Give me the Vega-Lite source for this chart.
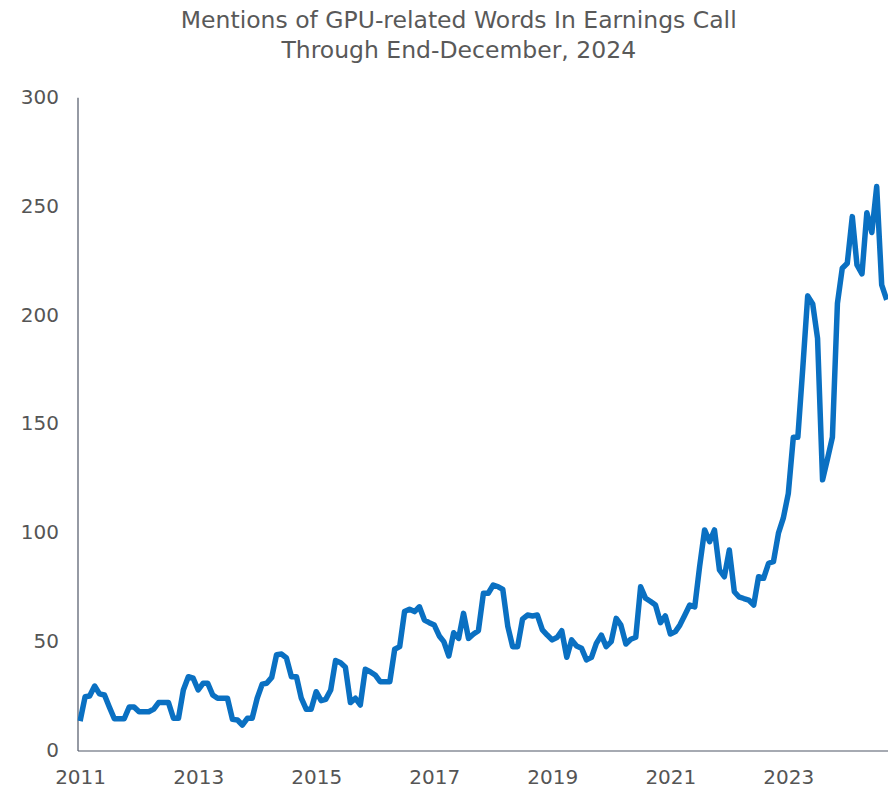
{
  "$schema": "https://vega.github.io/schema/vega-lite/v6.json",
  "autosize": {"type": "none"},
  "width": 810.5,
  "height": 653.2,
  "padding": {"left": 77.5, "top": 97.3, "right": 0, "bottom": 37.5},
  "background": "white",
  "title": {
    "text": ["Mentions of GPU-related Words In Earnings Call", "Through End-December, 2024"],
    "anchor": "middle",
    "frame": "group",
    "dx": -24,
    "offset": 25,
    "font": "DejaVu Sans",
    "fontSize": 23.5,
    "fontWeight": "normal",
    "lineHeight": 30,
    "color": "#595959"
  },
  "config": {"view": {"stroke": null}},
  "data": {
    "values": [
      {"date": "2011-01-01", "mentions": 13.5},
      {"date": "2011-02-01", "mentions": 24.7},
      {"date": "2011-03-01", "mentions": 25},
      {"date": "2011-04-01", "mentions": 29.6},
      {"date": "2011-05-01", "mentions": 26},
      {"date": "2011-06-01", "mentions": 25.5},
      {"date": "2011-07-01", "mentions": 20},
      {"date": "2011-08-01", "mentions": 14.6},
      {"date": "2011-09-01", "mentions": 14.6},
      {"date": "2011-10-01", "mentions": 14.6},
      {"date": "2011-11-01", "mentions": 20},
      {"date": "2011-12-01", "mentions": 20},
      {"date": "2012-01-01", "mentions": 17.8},
      {"date": "2012-02-01", "mentions": 17.8},
      {"date": "2012-03-01", "mentions": 17.8},
      {"date": "2012-04-01", "mentions": 19},
      {"date": "2012-05-01", "mentions": 22},
      {"date": "2012-06-01", "mentions": 22},
      {"date": "2012-07-01", "mentions": 22},
      {"date": "2012-08-01", "mentions": 14.8},
      {"date": "2012-09-01", "mentions": 14.8},
      {"date": "2012-10-01", "mentions": 27.8},
      {"date": "2012-11-01", "mentions": 33.9},
      {"date": "2012-12-01", "mentions": 33.2},
      {"date": "2013-01-01", "mentions": 27.8},
      {"date": "2013-02-01", "mentions": 30.9},
      {"date": "2013-03-01", "mentions": 30.9},
      {"date": "2013-04-01", "mentions": 25.5},
      {"date": "2013-05-01", "mentions": 24},
      {"date": "2013-06-01", "mentions": 24},
      {"date": "2013-07-01", "mentions": 24},
      {"date": "2013-08-01", "mentions": 14.3},
      {"date": "2013-09-01", "mentions": 14},
      {"date": "2013-10-01", "mentions": 11.7},
      {"date": "2013-11-01", "mentions": 14.8},
      {"date": "2013-12-01", "mentions": 14.8},
      {"date": "2014-01-01", "mentions": 24},
      {"date": "2014-02-01", "mentions": 30.5},
      {"date": "2014-03-01", "mentions": 30.9},
      {"date": "2014-04-01", "mentions": 33.6},
      {"date": "2014-05-01", "mentions": 44},
      {"date": "2014-06-01", "mentions": 44.3},
      {"date": "2014-07-01", "mentions": 42.5},
      {"date": "2014-08-01", "mentions": 33.9},
      {"date": "2014-09-01", "mentions": 33.9},
      {"date": "2014-10-01", "mentions": 24},
      {"date": "2014-11-01", "mentions": 18.9},
      {"date": "2014-12-01", "mentions": 18.9},
      {"date": "2015-01-01", "mentions": 27},
      {"date": "2015-02-01", "mentions": 22.9},
      {"date": "2015-03-01", "mentions": 23.5},
      {"date": "2015-04-01", "mentions": 27.8},
      {"date": "2015-05-01", "mentions": 41.3},
      {"date": "2015-06-01", "mentions": 40.3},
      {"date": "2015-07-01", "mentions": 38.2},
      {"date": "2015-08-01", "mentions": 22},
      {"date": "2015-09-01", "mentions": 24},
      {"date": "2015-10-01", "mentions": 20.9},
      {"date": "2015-11-01", "mentions": 37.3},
      {"date": "2015-12-01", "mentions": 36.2},
      {"date": "2016-01-01", "mentions": 34.7},
      {"date": "2016-02-01", "mentions": 31.6},
      {"date": "2016-03-01", "mentions": 31.6},
      {"date": "2016-04-01", "mentions": 31.6},
      {"date": "2016-05-01", "mentions": 46.5},
      {"date": "2016-06-01", "mentions": 47.7},
      {"date": "2016-07-01", "mentions": 63.8},
      {"date": "2016-08-01", "mentions": 64.9},
      {"date": "2016-09-01", "mentions": 63.8},
      {"date": "2016-10-01", "mentions": 66},
      {"date": "2016-11-01", "mentions": 59.9},
      {"date": "2016-12-01", "mentions": 58.7},
      {"date": "2017-01-01", "mentions": 57.6},
      {"date": "2017-02-01", "mentions": 52.6},
      {"date": "2017-03-01", "mentions": 50},
      {"date": "2017-04-01", "mentions": 43.4},
      {"date": "2017-05-01", "mentions": 54.1},
      {"date": "2017-06-01", "mentions": 51.5},
      {"date": "2017-07-01", "mentions": 63},
      {"date": "2017-08-01", "mentions": 51.5},
      {"date": "2017-09-01", "mentions": 53.5},
      {"date": "2017-10-01", "mentions": 55},
      {"date": "2017-11-01", "mentions": 72.2},
      {"date": "2017-12-01", "mentions": 72.2},
      {"date": "2018-01-01", "mentions": 76},
      {"date": "2018-02-01", "mentions": 75.2},
      {"date": "2018-03-01", "mentions": 74},
      {"date": "2018-04-01", "mentions": 57},
      {"date": "2018-05-01", "mentions": 47.7},
      {"date": "2018-06-01", "mentions": 47.7},
      {"date": "2018-07-01", "mentions": 60.3},
      {"date": "2018-08-01", "mentions": 62.2},
      {"date": "2018-09-01", "mentions": 61.8},
      {"date": "2018-10-01", "mentions": 62.2},
      {"date": "2018-11-01", "mentions": 55.4},
      {"date": "2018-12-01", "mentions": 53},
      {"date": "2019-01-01", "mentions": 50.8},
      {"date": "2019-02-01", "mentions": 52},
      {"date": "2019-03-01", "mentions": 55},
      {"date": "2019-04-01", "mentions": 42.8},
      {"date": "2019-05-01", "mentions": 50.8},
      {"date": "2019-06-01", "mentions": 48},
      {"date": "2019-07-01", "mentions": 47},
      {"date": "2019-08-01", "mentions": 41.6},
      {"date": "2019-09-01", "mentions": 42.8},
      {"date": "2019-10-01", "mentions": 49.2},
      {"date": "2019-11-01", "mentions": 53},
      {"date": "2019-12-01", "mentions": 47.7},
      {"date": "2020-01-01", "mentions": 50},
      {"date": "2020-02-01", "mentions": 60.7},
      {"date": "2020-03-01", "mentions": 57.6},
      {"date": "2020-04-01", "mentions": 48.9},
      {"date": "2020-05-01", "mentions": 51.1},
      {"date": "2020-06-01", "mentions": 52},
      {"date": "2020-07-01", "mentions": 75.2},
      {"date": "2020-08-01", "mentions": 69.9},
      {"date": "2020-09-01", "mentions": 68.4},
      {"date": "2020-10-01", "mentions": 66.8},
      {"date": "2020-11-01", "mentions": 58.7},
      {"date": "2020-12-01", "mentions": 61.8},
      {"date": "2021-01-01", "mentions": 53.5},
      {"date": "2021-02-01", "mentions": 54.6},
      {"date": "2021-03-01", "mentions": 57.6},
      {"date": "2021-04-01", "mentions": 62.2},
      {"date": "2021-05-01", "mentions": 66.8},
      {"date": "2021-06-01", "mentions": 66},
      {"date": "2021-07-01", "mentions": 84.4},
      {"date": "2021-08-01", "mentions": 101.3},
      {"date": "2021-09-01", "mentions": 95.9},
      {"date": "2021-10-01", "mentions": 101.3},
      {"date": "2021-11-01", "mentions": 82.9},
      {"date": "2021-12-01", "mentions": 79.8},
      {"date": "2022-01-01", "mentions": 92.1},
      {"date": "2022-02-01", "mentions": 72.9},
      {"date": "2022-03-01", "mentions": 70.6},
      {"date": "2022-04-01", "mentions": 69.8},
      {"date": "2022-05-01", "mentions": 69.1},
      {"date": "2022-06-01", "mentions": 66.8},
      {"date": "2022-07-01", "mentions": 79.8},
      {"date": "2022-08-01", "mentions": 79.1},
      {"date": "2022-09-01", "mentions": 86},
      {"date": "2022-10-01", "mentions": 86.7},
      {"date": "2022-11-01", "mentions": 99.8},
      {"date": "2022-12-01", "mentions": 106.7},
      {"date": "2023-01-01", "mentions": 118},
      {"date": "2023-02-01", "mentions": 143.9},
      {"date": "2023-03-01", "mentions": 143.9},
      {"date": "2023-04-01", "mentions": 176},
      {"date": "2023-05-01", "mentions": 208.8},
      {"date": "2023-06-01", "mentions": 205.1},
      {"date": "2023-07-01", "mentions": 189.3},
      {"date": "2023-08-01", "mentions": 124.3},
      {"date": "2023-09-01", "mentions": 134},
      {"date": "2023-10-01", "mentions": 143.9},
      {"date": "2023-11-01", "mentions": 205.4},
      {"date": "2023-12-01", "mentions": 221.5},
      {"date": "2024-01-01", "mentions": 223.8},
      {"date": "2024-02-01", "mentions": 245.2},
      {"date": "2024-03-01", "mentions": 223},
      {"date": "2024-04-01", "mentions": 218.9},
      {"date": "2024-05-01", "mentions": 247},
      {"date": "2024-06-01", "mentions": 237.9},
      {"date": "2024-07-01", "mentions": 259},
      {"date": "2024-08-01", "mentions": 213.8},
      {"date": "2024-09-01", "mentions": 207}
    ]
  },
  "mark": {"type": "line", "color": "#0a70c2", "strokeWidth": 5.5, "strokeJoin": "round", "clip": true},
  "encoding": {
    "x": {
      "field": "date",
      "type": "temporal",
      "title": null,
      "scale": {
        "type": "utc",
        "domain": [{"year": 2010, "month": 12, "date": 16, "utc": true}, {"year": 2024, "month": 9, "date": 9, "utc": true}]
      },
      "axis": {
        "values": [
          {"year": 2011, "utc": true}, {"year": 2013, "utc": true}, {"year": 2015, "utc": true},
          {"year": 2017, "utc": true}, {"year": 2019, "utc": true}, {"year": 2021, "utc": true},
          {"year": 2023, "utc": true}
        ],
        "format": "%Y",
        "grid": false,
        "ticks": false,
        "domainColor": "#4f5767",
        "domainWidth": 1.2,
        "labelFont": "DejaVu Sans",
        "labelFontSize": 20,
        "labelColor": "#555555",
        "labelPadding": 17,
        "labelFlush": false
      }
    },
    "y": {
      "field": "mentions",
      "type": "quantitative",
      "title": null,
      "scale": {"domain": [0, 300], "nice": false},
      "axis": {
        "values": [0, 50, 100, 150, 200, 250, 300],
        "grid": false,
        "ticks": false,
        "domainColor": "#4f5767",
        "domainWidth": 1.2,
        "labelFont": "DejaVu Sans",
        "labelFontSize": 20,
        "labelColor": "#555555",
        "labelPadding": 19,
        "labelFlush": false
      }
    }
  }
}
